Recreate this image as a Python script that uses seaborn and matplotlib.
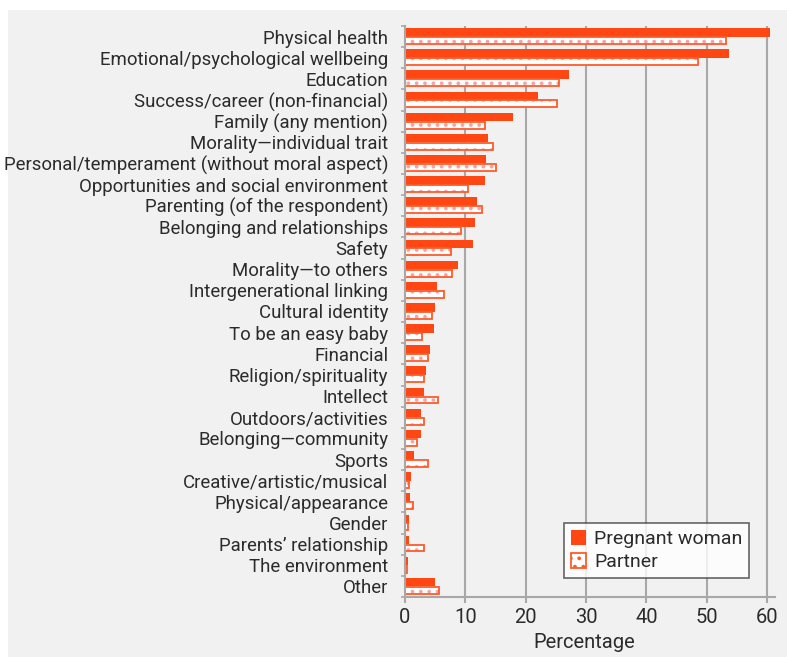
import matplotlib
matplotlib.use("Agg")
import matplotlib.pyplot as plt
from matplotlib.patches import Rectangle, Patch
import seaborn as sns
import pandas as pd

categories = [
    "Physical health", "Emotional/psychological wellbeing", "Education",
    "Success/career (non-financial)", "Family (any mention)", "Morality\u2014individual trait",
    "Personal/temperament (without moral aspect)", "Opportunities and social environment",
    "Parenting (of the respondent)", "Belonging and relationships", "Safety",
    "Morality\u2014to others", "Intergenerational linking", "Cultural identity",
    "To be an easy baby", "Financial", "Religion/spirituality", "Intellect",
    "Outdoors/activities", "Belonging\u2014community", "Sports", "Creative/artistic/musical",
    "Physical/appearance", "Gender", "Parents\u2019 relationship", "The environment", "Other",
]
pregnant = [60.5, 53.7, 27.2, 22.1, 17.9, 13.7, 13.4, 13.3, 11.9, 11.6, 11.3, 8.8, 5.3,
            5.0, 4.8, 4.1, 3.5, 3.2, 2.7, 2.7, 1.5, 1.0, 0.8, 0.7, 0.7, 0.5, 5.0]
partner = [53.2, 48.6, 25.5, 25.2, 13.3, 14.6, 15.0, 10.4, 12.8, 9.2, 7.6, 7.8, 6.5,
           4.5, 2.8, 3.8, 3.1, 5.5, 3.1, 2.0, 3.8, 0.7, 1.3, 0.5, 3.1, 0.3, 5.6]
series = ["Pregnant woman", "Partner"]
xticks = [0, 10, 20, 30, 40, 50, 60]

RED = "#ff4713"
EDGE = "#ff5a2a"
DOT = "#f7a3a3"
GRID = "#a8a8a8"
TXT = "#2b2b2b"
BG = "#f1f1f1"

df = pd.DataFrame({
    "Category": categories * 2,
    "Percentage": pregnant + partner,
    "Group": [series[0]] * len(categories) + [series[1]] * len(categories),
})

sns.set_style("white")
plt.rcParams["font.family"] = ["Roboto", "DejaVu Sans"]
plt.rcParams["hatch.linewidth"] = 1.5

fig = plt.figure(figsize=(7.87, 6.57), dpi=100)
fig.patch.set_facecolor("white")
fig.add_artist(Rectangle((8 / 787, 0), 1, 1 - 10 / 657, transform=fig.transFigure,
                         facecolor=BG, edgecolor="none", zorder=-10))
ax = fig.add_axes([405 / 787, 1 - 597 / 657, (775 - 405) / 787, (597 - 26) / 657])
ax.set_facecolor(BG)
ax.set_axisbelow(True)

sns.barplot(data=df, y="Category", x="Percentage", hue="Group", orient="h",
            palette=[RED, "white"], width=0.8, gap=0, legend=False, ax=ax,
            saturation=1, errorbar=None)

# style the partner bars: dotted white fill with red outline
for p in ax.containers[0]:
    p.set_edgecolor("none")
    p.set_linewidth(0)
for p in ax.containers[1]:
    y0 = p.get_y()
    h = p.get_height()
    p.set_y(y0 + 0.05 * h)
    p.set_height(0.82 * h)
    p.set_facecolor("white")
    p.set_edgecolor(DOT)
    p.set_hatch("..")
    p.set_linewidth(0)
    ax.add_patch(Rectangle((p.get_x(), p.get_y()), p.get_width(), p.get_height(),
                           fill=False, edgecolor=EDGE, linewidth=1.3, zorder=p.get_zorder() + 0.1))

ax.set_xlim(0, 61.3)
ax.set_ylim(len(categories) - 0.5, -0.5)
ax.set_xticks(xticks)
ax.set_xticklabels([str(t) for t in xticks])
ax.xaxis.grid(True, color=GRID, linewidth=1.5)
ax.yaxis.grid(False)

ax.set_yticks(range(len(categories)))
ax.set_yticklabels(categories)
ax.set_yticks([i - 0.5 for i in range(len(categories) + 1)], minor=True)
ax.tick_params(axis="y", which="major", length=0, pad=12, labelsize=13.4, labelcolor=TXT)
ax.tick_params(axis="y", which="minor", length=3, width=1.2, color=GRID, left=True)
ax.tick_params(axis="x", which="major", length=4, width=1.5, color=GRID, bottom=True,
               labelsize=14.5, labelcolor=TXT, pad=4)

ax.set_ylabel("")
ax.set_xlabel("Percentage", fontsize=14.5, color=TXT, labelpad=2)
ax.xaxis.set_label_coords(0.484, -0.063)
ax.xaxis.label.set_va("top")

for s in ["top", "right"]:
    ax.spines[s].set_visible(False)
for s in ["left", "bottom"]:
    ax.spines[s].set_color(GRID)
    ax.spines[s].set_linewidth(1.5)

handles = [
    Patch(facecolor=RED, edgecolor="none", label=series[0]),
    Patch(facecolor="white", edgecolor=EDGE, hatch="..", linewidth=1.3, label=series[1]),
]
leg = ax.legend(handles=handles, loc="lower right", bbox_to_anchor=(0.93, 0.033),
                frameon=True, fancybox=False, fontsize=14, handlelength=0.8,
                handleheight=0.8, handletextpad=0.4, borderpad=0.35, labelspacing=0.25,
                borderaxespad=0)
leg.get_frame().set_edgecolor("#404040")
leg.get_frame().set_linewidth(1.2)
leg.get_frame().set_facecolor("white")
for t in leg.get_texts():
    t.set_color(TXT)

fig.savefig("out.png", dpi=100)
